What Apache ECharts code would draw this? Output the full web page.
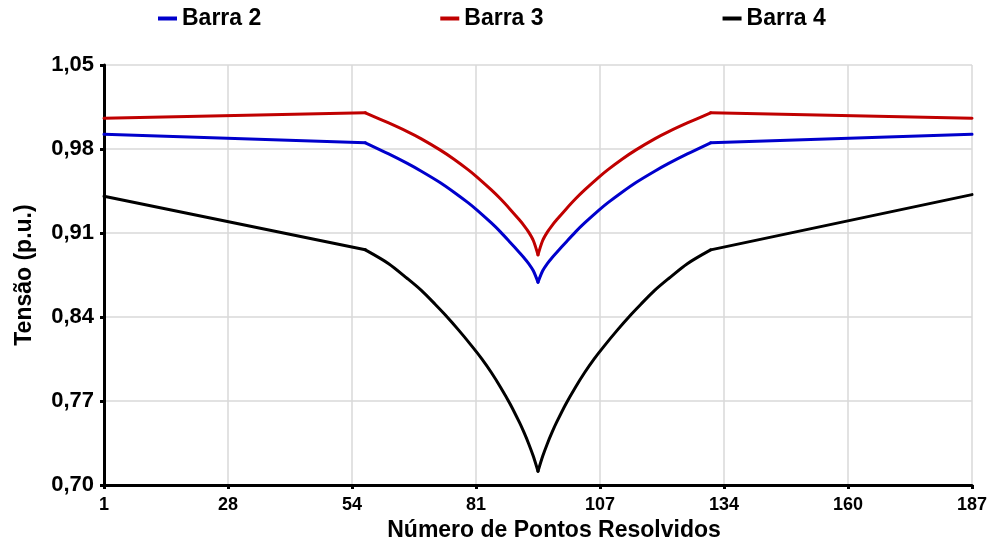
<!DOCTYPE html>
<html>
<head>
<meta charset="utf-8">
<script src="https://cdn.jsdelivr.net/npm/echarts@6/dist/echarts.min.js"></script>
<style>
html,body{margin:0;padding:0;background:#fff;}
#chart{width:992px;height:547px;}
</style>
</head>
<body>
<div id="chart"></div>
<script>
// Series names
const seriesNames = ['Barra 2', 'Barra 3', 'Barra 4'];

// X positions (Número de Pontos Resolvidos) for Barra 2 and Barra 3
const xBarra23 = [1, 57, 62, 66, 69, 73, 76, 79, 81, 84, 86, 88, 90, 91, 92, 93, 94,
                  95, 96, 97, 98, 100, 102, 104, 107, 109, 112, 115, 119, 122, 126, 131, 187];
// Barra 2 values
const barra2 = [0.9923, 0.9852, 0.9759, 0.9680, 0.9615, 0.9521, 0.9440, 0.9353, 0.9289, 0.9184, 0.9108, 0.9024, 0.8938, 0.8894, 0.8846, 0.8786, 0.8690,
                0.8786, 0.8846, 0.8894, 0.8938, 0.9024, 0.9108, 0.9184, 0.9289, 0.9353, 0.9440, 0.9521, 0.9615, 0.9680, 0.9759, 0.9852, 0.9923];
// Barra 3 values
const barra3 = [1.0057, 1.0102, 1.0017, 0.9945, 0.9885, 0.9793, 0.9715, 0.9628, 0.9564, 0.9459, 0.9383, 0.9299, 0.9210, 0.9162, 0.9108, 0.9038, 0.8918,
                0.9038, 0.9108, 0.9162, 0.9210, 0.9299, 0.9383, 0.9459, 0.9564, 0.9628, 0.9715, 0.9793, 0.9885, 0.9945, 1.0017, 1.0102, 1.0057];

// X positions for Barra 4
const xBarra4 = [1, 57, 62, 66, 69, 72, 74, 77, 80, 82, 84, 86, 88, 90, 91, 92, 93, 94,
                 95, 96, 97, 98, 100, 102, 104, 106, 108, 111, 114, 116, 119, 122, 126, 131, 187];
// Barra 4 values
const barra4 = [0.9406, 0.8960, 0.8845, 0.8721, 0.8622, 0.8505, 0.8423, 0.8291, 0.8150, 0.8050, 0.7938, 0.7814, 0.7678, 0.7524, 0.7439, 0.7345, 0.7240, 0.7115,
                0.7240, 0.7345, 0.7439, 0.7524, 0.7678, 0.7814, 0.7938, 0.8050, 0.8150, 0.8291, 0.8423, 0.8505, 0.8622, 0.8721, 0.8845, 0.8960, 0.9420];

// Break points of the curves (kinks and cusp), where smoothing restarts
const breakPoints = [57, 94, 131];

// Axis ranges / ticks
const xMin = 1, xMax = 187, xDivisions = 7;
const yMin = 0.70, yMax = 1.05, yStep = 0.07;

const colors = ['#0000cc', '#c00000', '#000000'];
const FONT = "'Liberation Sans', Arial, sans-serif";

// split a series into pieces between break points (each piece shares its end points)
function pieces(xs, ys) {
  const bounds = [xs[0]].concat(breakPoints, [xs[xs.length - 1]]);
  const out = [];
  for (let b = 0; b < bounds.length - 1; b++) {
    const lo = bounds[b], hi = bounds[b + 1];
    const seg = [];
    xs.forEach((x, i) => { if (x >= lo && x <= hi) seg.push([x, ys[i]]); });
    out.push(seg);
  }
  return out;
}

const series = [];
[[xBarra23, barra2], [xBarra23, barra3], [xBarra4, barra4]].forEach((s, k) => {
  pieces(s[0], s[1]).forEach(seg => {
    series.push({
      name: seriesNames[k],
      type: 'line',
      data: seg,
      showSymbol: false,
      symbol: 'none',
      smooth: 0.3,
      animation: false,
      lineStyle: {color: colors[k], width: 3, cap: 'round', join: 'round'},
      itemStyle: {color: colors[k]}
    });
  });
});

const chart = echarts.init(document.getElementById('chart'), null, {renderer: 'canvas'});

chart.setOption({
  animation: false,
  backgroundColor: '#ffffff',
  legend: {
    left: 158,
    top: 7,
    padding: 0,
    icon: 'rect',
    itemWidth: 19,
    itemHeight: 4,
    itemGap: 179,
    textStyle: {fontFamily: FONT, fontWeight: 'bold', fontSize: 23, color: '#000'},
    data: seriesNames
  },
  grid: {left: 104, right: 20, top: 65, bottom: 55, containLabel: false},
  xAxis: {
    type: 'value',
    min: xMin,
    max: xMax,
    interval: (xMax - xMin) / xDivisions,
    name: 'Número de Pontos Resolvidos',
    nameLocation: 'middle',
    nameGap: 27,
    nameTextStyle: {fontFamily: FONT, fontWeight: 'bold', fontSize: 23, color: '#000', padding: [0, 0, 0, 32]},
    axisLine: {show: true, onZero: false, lineStyle: {color: '#000', width: 3}},
    axisTick: {show: true, inside: false, length: 4, lineStyle: {color: '#000', width: 3}},
    axisLabel: {
      margin: 11,
      fontFamily: FONT, fontWeight: 'bold', fontSize: 18, color: '#000',
      formatter: v => String(Math.round(v))
    },
    splitLine: {show: true, lineStyle: {color: '#d9d9d9', width: 1.5}}
  },
  yAxis: {
    type: 'value',
    min: yMin,
    max: yMax,
    interval: yStep,
    name: 'Tensão (p.u.)',
    nameLocation: 'middle',
    nameGap: 68,
    nameTextStyle: {fontFamily: FONT, fontWeight: 'bold', fontSize: 23, color: '#000'},
    axisLine: {show: true, lineStyle: {color: '#000', width: 3}},
    axisTick: {show: true, inside: false, length: 4, lineStyle: {color: '#000', width: 3}},
    axisLabel: {
      margin: 10,
      fontFamily: FONT, fontWeight: 'bold', fontSize: 22, color: '#000',
      formatter: v => v.toFixed(2).replace('.', ',')
    },
    splitLine: {show: true, lineStyle: {color: '#d9d9d9', width: 1.5}}
  },
  series: series
});
</script>
</body>
</html>
